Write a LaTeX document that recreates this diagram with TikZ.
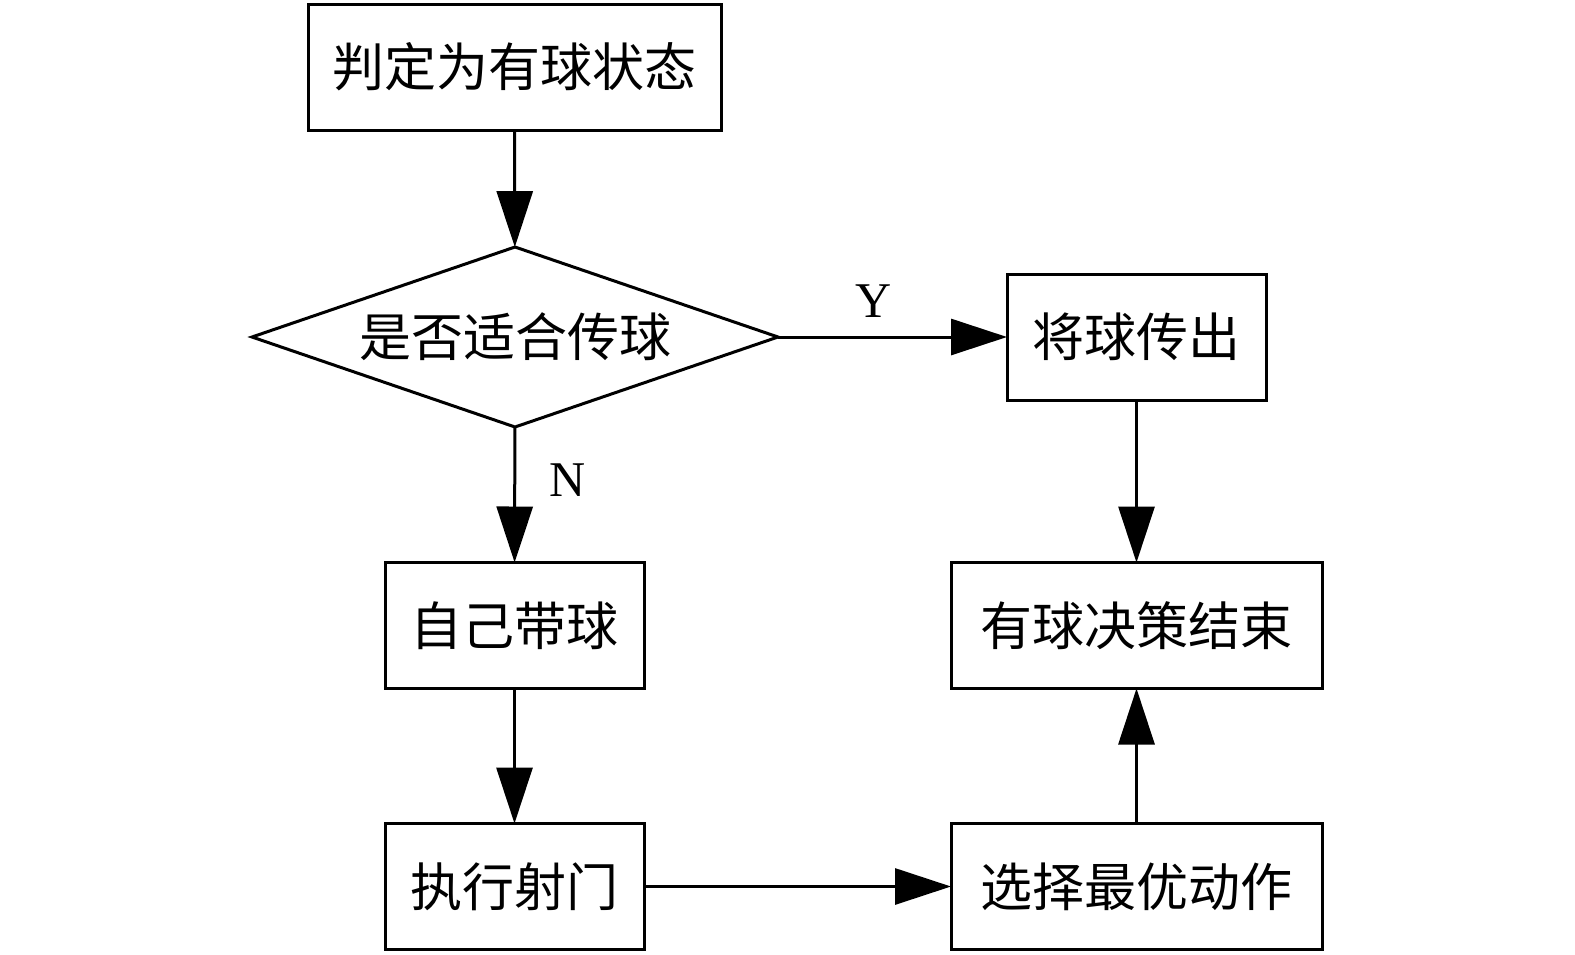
\documentclass[tikz,border=0pt]{standalone}
\usepackage{fontspec}
\setmainfont{Liberation Serif}
\newfontfamily\cjk{Noto Sans CJK SC}
\usetikzlibrary{shapes.geometric,arrows.meta}

\begin{document}
\begin{tikzpicture}[x=0.5pt,y=0.5pt,yscale=-1,xscale=1,
	box/.style={draw,line width=1.5pt,inner sep=0pt,outer sep=0pt,minimum height=63pt,font=\cjk\fontsize{26}{30}\selectfont},
	choice/.style={draw,diamond,line width=1.5pt,inner sep=0pt,outer sep=0pt,aspect=2.9,minimum width=263pt,minimum height=90pt,font=\cjk\fontsize{26}{30}\selectfont},
	flow/.style={line width=1.5pt,-{Triangle[length=28pt,width=18pt]}},
	yn/.style={font=\fontsize{25}{30}\selectfont}]
		\useasboundingbox (0,0) rectangle (1575,954);
		
		%Shape: Rectangle
		\node [box,minimum width=206.5pt] (state) at (514.5,67) {判定为有球状态};
		%Shape: Diamond
		\node [choice] (pass) at (515,337) {是否适合传球};
		%Shape: Rectangle
		\node [box,minimum width=129.5pt] (out) at (1136.5,337) {将球传出};
		%Shape: Rectangle
		\node [box,minimum width=129.5pt] (dribble) at (514.5,625.5) {自己带球};
		%Shape: Rectangle
		\node [box,minimum width=185.5pt] (finish) at (1136.5,625.5) {有球决策结束};
		%Shape: Rectangle
		\node [box,minimum width=129.5pt] (shoot) at (514.5,886.5) {执行射门};
		%Shape: Rectangle
		\node [box,minimum width=185.5pt] (best) at (1136.5,886.5) {选择最优动作};
		
		%Straight Lines
		\draw [flow] (state) -- (pass);
		%Straight Lines
		\draw [flow] (pass) -- (out);
		%Straight Lines
		\draw [flow] (pass) -- (dribble);
		%Straight Lines
		\draw [flow] (out) -- (finish);
		%Straight Lines
		\draw [flow] (dribble) -- (shoot);
		%Straight Lines
		\draw [flow] (shoot) -- (best);
		%Straight Lines
		\draw [flow] (best) -- (finish);
		
		% Text Node
		\node [yn] (yes) at (874,301) {Y};
		% Text Node
		\node [yn] (no) at (568,480) {N};
\end{tikzpicture}
\end{document}
